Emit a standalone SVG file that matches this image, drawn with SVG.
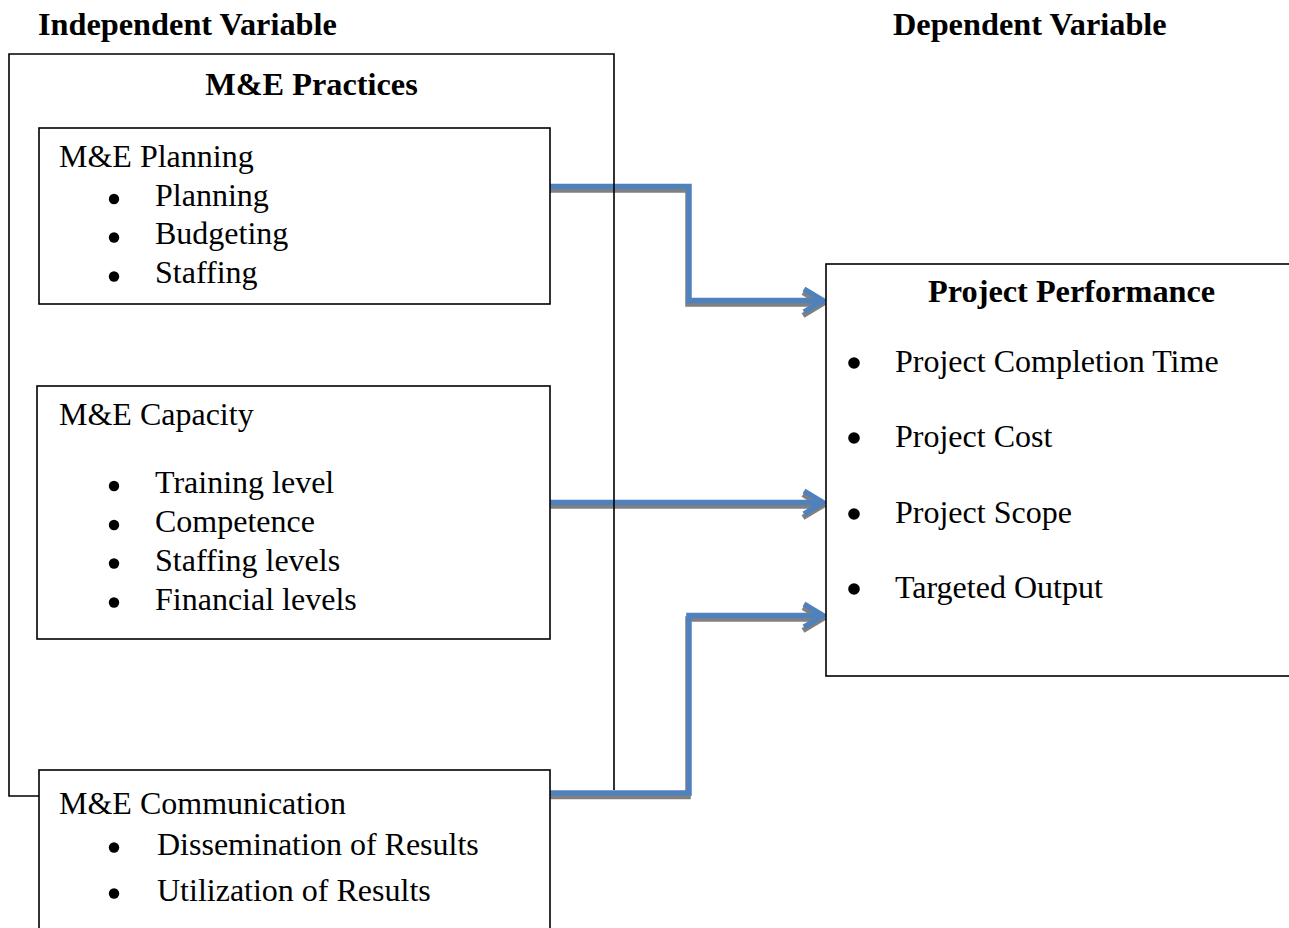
<svg xmlns="http://www.w3.org/2000/svg" width="1289" height="928" viewBox="0 0 1289 928">
<style>
text{font-family:"Liberation Serif","Times New Roman",serif;font-size:32px;fill:#000}
.b{font-weight:bold;font-size:32.3px}
.box{fill:#fff;stroke:#000;stroke-width:1.6}
.frame{fill:none;stroke:#000;stroke-width:1.6}
.dot{fill:#000}
.sh{fill:none;stroke:#808080;stroke-width:5.5;stroke-linejoin:miter}
.ln{fill:none;stroke:#4F81BD;stroke-width:5.5;stroke-linejoin:miter}
</style>
<rect width="1289" height="928" fill="#fff"/>
<text class="b" x="38" y="35">Independent Variable</text>
<text class="b" x="893" y="35">Dependent Variable</text>
<g id="connectors">
<g transform="translate(-1,3.5)">
<path class="sh" d="M550,186.5 H689 V300.5 H822 M804,289 L823,300.5 L804,312"/>
<path class="sh" d="M550,502.5 H822 M804,491 L823,502.5 L804,514"/>
<path class="sh" d="M550,793 H689 V615.5 H822 M804,604 L823,615.5 L804,627"/>
</g>
<path class="ln" d="M550,186.5 H689 V300.5 H822 M804,289 L823,300.5 L804,312"/>
<path class="ln" d="M550,502.5 H822 M804,491 L823,502.5 L804,514"/>
<path class="ln" d="M550,793 H689 V615.5 H822 M804,604 L823,615.5 L804,627"/>
</g>
<g id="practices">
<path class="frame" d="M39,796 H9 V54 H614 V790"/>
<text class="b" x="311.5" y="95" text-anchor="middle">M&amp;E Practices</text>
</g>
<g id="planning">
<rect class="box" x="39" y="128" width="511" height="176"/>
<text x="59" y="167">M&amp;E Planning</text>
<circle class="dot" cx="114" cy="199" r="5.2"/><text x="155" y="205.5">Planning</text>
<circle class="dot" cx="114" cy="237.5" r="5.2"/><text x="155" y="244">Budgeting</text>
<circle class="dot" cx="114" cy="276.5" r="5.2"/><text x="155" y="283">Staffing</text>
</g>
<g id="capacity">
<rect class="box" x="37" y="386" width="513" height="253"/>
<text x="59" y="425">M&amp;E Capacity</text>
<circle class="dot" cx="114" cy="486" r="5.2"/><text x="155" y="493">Training level</text>
<circle class="dot" cx="114" cy="525" r="5.2"/><text x="155" y="532">Competence</text>
<circle class="dot" cx="114" cy="563.5" r="5.2"/><text x="155" y="570.5">Staffing levels</text>
<circle class="dot" cx="114" cy="602.5" r="5.2"/><text x="155" y="609.5">Financial levels</text>
</g>
<g id="communication">
<rect class="box" x="39" y="770" width="511" height="170"/>
<text x="59" y="814">M&amp;E Communication</text>
<circle class="dot" cx="114" cy="847.5" r="5.2"/><text x="157" y="855">Dissemination of Results</text>
<circle class="dot" cx="114" cy="893.5" r="5.2"/><text x="157" y="901">Utilization of Results</text>
</g>
<g id="performance">
<rect class="box" x="826" y="264" width="480" height="412"/>
<text class="b" x="928" y="302">Project Performance</text>
<circle class="dot" cx="854" cy="363" r="5.8"/><text x="895" y="372">Project Completion Time</text>
<circle class="dot" cx="854" cy="438" r="5.8"/><text x="895" y="447">Project Cost</text>
<circle class="dot" cx="854" cy="514" r="5.8"/><text x="895" y="523">Project Scope</text>
<circle class="dot" cx="854" cy="589" r="5.8"/><text x="895" y="598">Targeted Output</text>
</g>
</svg>
